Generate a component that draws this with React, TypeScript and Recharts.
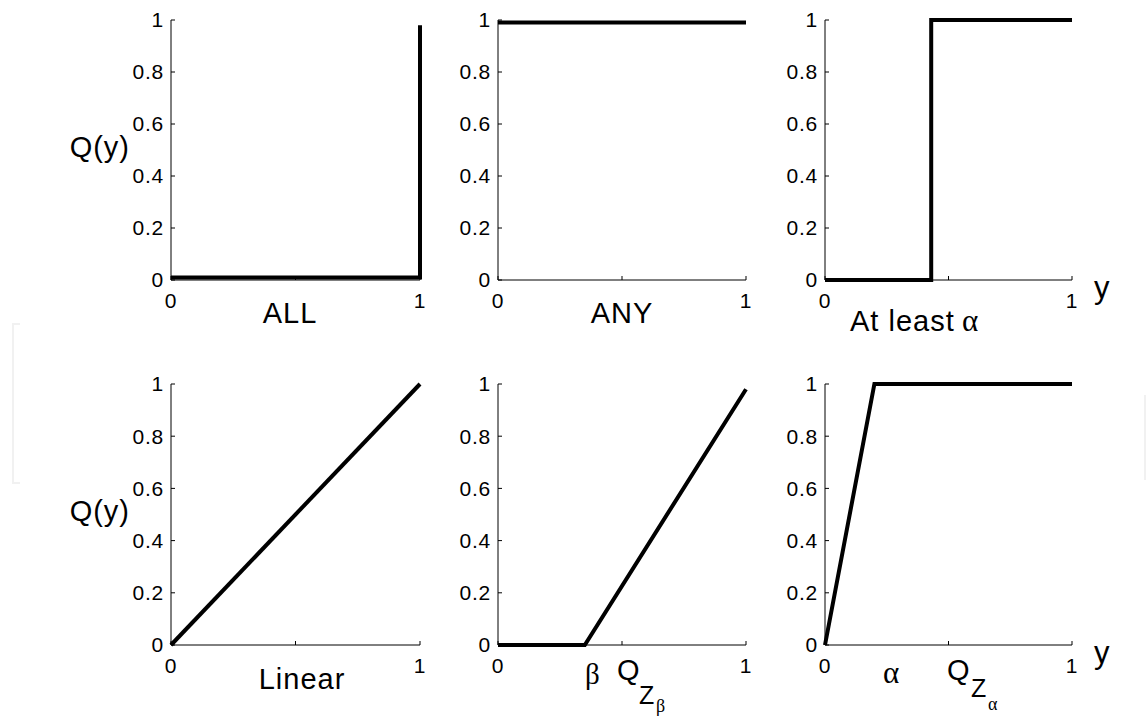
import React from 'react';
import { LineChart, Line, XAxis, YAxis, Label } from 'recharts';

const SANS = '"Liberation Sans", Arial, Helvetica, sans-serif';
const SERIF = '"Liberation Serif", "Times New Roman", serif';

// ---- data ----
const yTicks = [0, 0.2, 0.4, 0.6, 0.8, 1];
const xTicks = [0, 0.5, 1];
const xTickLabels: Record<string, string> = { '0': '0', '0.5': '', '1': '1' };

const allX = [0, 1, 1];
const allQ = [0.01, 0.01, 0.98];
const anyX = [0, 1];
const anyQ = [0.99, 0.99];
const atLeastX = [0, 0.43, 0.43, 1];
const atLeastQ = [0, 0, 1, 1];
const linearX = [0, 1];
const linearQ = [0, 1];
const betaX = [0, 0.35, 1];
const betaQ = [0, 0, 0.98];
const alphaX = [0, 0.2, 1];
const alphaQ = [0, 1, 1];

const toRows = (xs: number[], qs: number[]) => xs.map((x, i) => ({ x, q: qs[i] }));

type Part = { text: string; dx: number; dy: number; size: number; anchor?: 'start' | 'middle' | 'end'; serif?: boolean };

const panels = [
  { key: 'all', data: toRows(allX, allQ), col: 0, row: 0, qy: true, yLab: false,
    parts: [{ text: 'ALL', dx: 119, dy: 43, size: 29, anchor: 'middle' }] as Part[] },
  { key: 'any', data: toRows(anyX, anyQ), col: 1, row: 0, qy: false, yLab: false,
    parts: [{ text: 'ANY', dx: 124, dy: 43, size: 29, anchor: 'middle' }] as Part[] },
  { key: 'atleast', data: toRows(atLeastX, atLeastQ), col: 2, row: 0, qy: false, yLab: true,
    parts: [
      { text: 'At least', dx: 25, dy: 51, size: 29 },
      { text: 'α', dx: 137, dy: 51, size: 31, serif: true },
    ] as Part[] },
  { key: 'linear', data: toRows(linearX, linearQ), col: 0, row: 1, qy: true, yLab: false,
    parts: [{ text: 'Linear', dx: 131, dy: 44, size: 29, anchor: 'middle' }] as Part[] },
  { key: 'beta', data: toRows(betaX, betaQ), col: 1, row: 1, qy: false, yLab: false,
    parts: [
      { text: 'β', dx: 87, dy: 39, size: 29, serif: true },
      { text: 'Q', dx: 119, dy: 35, size: 29 },
      { text: 'Z', dx: 141, dy: 59, size: 25 },
      { text: 'β', dx: 158, dy: 67, size: 18, serif: true },
    ] as Part[] },
  { key: 'alpha', data: toRows(alphaX, alphaQ), col: 2, row: 1, qy: false, yLab: true,
    parts: [
      { text: 'α', dx: 58, dy: 38, size: 31, serif: true },
      { text: 'Q', dx: 122, dy: 35, size: 29 },
      { text: 'Z', dx: 146, dy: 52, size: 25 },
      { text: 'α', dx: 163, dy: 65, size: 18, serif: true },
    ] as Part[] },
];

// ---- layout ----
const colAxisX = [171, 498, 825];
const colPlotW = [249, 248, 247];
const rowPlotTop = [20, 384];
const rowPlotH = [260, 261];
const Y_AXIS_W = 110;
const X_AXIS_H = 80;
const M_TOP = 15;
const M_RIGHT = 70;
const TICK_STYLE = { fill: '#000', fontSize: 21, fontFamily: SANS, letterSpacing: 0.8 };

const XLabelContent = (props: any, parts: Part[], yLab: boolean) => {
  const vb = props.viewBox || {};
  const x0 = vb.x ?? 0;
  const y0 = vb.y ?? 0;
  return (
    <g>
      {parts.map((p, i) => (
        <text
          key={i}
          x={x0 + p.dx}
          y={y0 + p.dy}
          fontSize={p.size}
          fontFamily={p.serif ? SERIF : SANS}
          textAnchor={p.anchor || 'start'}
          letterSpacing={p.serif ? 0 : 1}
          fill="#000"
        >
          {p.text}
        </text>
      ))}
      {yLab && (
        <text x={x0 + 269} y={y0 + 18} fontSize={31} fontFamily={SANS} fill="#000">
          y
        </text>
      )}
    </g>
  );
};

const YLabelContent = (props: any) => {
  const vb = props.viewBox || {};
  return (
    <text
      x={(vb.x ?? 0) + (vb.width ?? 0) - 41}
      y={(vb.y ?? 0) + 137}
      fontSize={29}
      fontFamily={SANS}
      letterSpacing={1}
      textAnchor="end"
      fill="#000"
    >
      Q(y)
    </text>
  );
};

export default function App() {
  return (
    <div style={{ position: 'absolute', left: 0, top: 0, width: 1146, height: 717, background: '#fff', fontFamily: SANS }}>
      <div style={{ position: 'absolute', left: 12, top: 323, width: 6, height: 157, border: '2px solid #f1f1f1', borderRight: 'none' }} />
      <div style={{ position: 'absolute', left: 1144, top: 395, width: 2, height: 85, background: '#f1f1f1' }} />
      {panels.map((p) => {
        const plotW = colPlotW[p.col];
        const plotH = rowPlotH[p.row];
        const w = Y_AXIS_W + plotW + M_RIGHT;
        const h = M_TOP + plotH + X_AXIS_H;
        return (
          <div
            key={p.key}
            style={{ position: 'absolute', left: colAxisX[p.col] - Y_AXIS_W, top: rowPlotTop[p.row] - M_TOP, width: w, height: h }}
          >
            <LineChart width={w} height={h} data={p.data} margin={{ top: M_TOP, right: M_RIGHT, bottom: 0, left: 0 }} style={{ overflow: 'visible' }}>
              <XAxis
                dataKey="x"
                type="number"
                domain={[0, 1]}
                ticks={xTicks}
                tickFormatter={(v: number) => xTickLabels[String(v)] ?? ''}
                height={X_AXIS_H}
                axisLine={{ stroke: '#000', strokeWidth: 1 }}
                tickLine={{ stroke: '#000', strokeWidth: 1 }}
                tickSize={-4}
                tickMargin={17}
                tick={TICK_STYLE}
                interval={0}
              >
                <Label content={(lp: any) => XLabelContent(lp, p.parts, p.yLab)} />
              </XAxis>
              <YAxis
                type="number"
                domain={[0, 1]}
                ticks={yTicks}
                tickFormatter={(v: number) => String(v)}
                width={Y_AXIS_W}
                axisLine={{ stroke: '#000', strokeWidth: 1 }}
                tickLine={{ stroke: '#000', strokeWidth: 1 }}
                tickSize={-4}
                tickMargin={11}
                tick={TICK_STYLE}
                interval={0}
              >
                {p.qy && <Label content={(lp: any) => YLabelContent(lp)} />}
              </YAxis>
              <Line
                type="linear"
                dataKey="q"
                stroke="#000"
                strokeWidth={4}
                dot={false}
                activeDot={false}
                isAnimationActive={false}
              />
            </LineChart>
          </div>
        );
      })}
    </div>
  );
}
